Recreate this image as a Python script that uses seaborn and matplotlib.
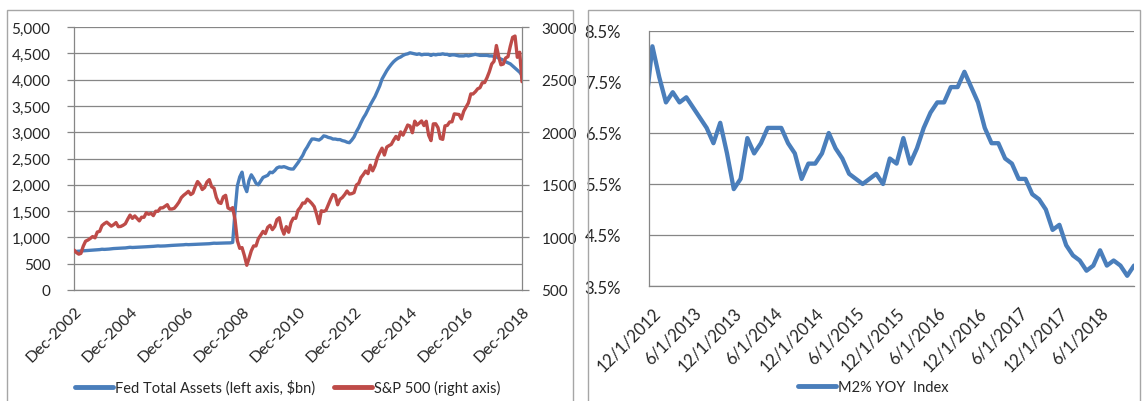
import numpy as np
import pandas as pd
import matplotlib
matplotlib.use("Agg")
import matplotlib.pyplot as plt
from matplotlib.patches import Rectangle
from matplotlib.lines import Line2D
import seaborn as sns

sns.set_style("white")
plt.rcParams["font.family"] = ["Lato", "DejaVu Sans"]

# ---------------- data ----------------
# Monthly, Dec 2002 .. Dec 2018
fed_assets = [
    730,
    735, 738, 742, 745, 748, 752, 755, 757, 760, 764, 768, 775,
    772, 775, 778, 783, 788, 790, 792, 795, 798, 800, 806, 812,
    808, 810, 812, 815, 818, 820, 822, 824, 826, 830, 834, 838,
    835, 836, 838, 842, 845, 848, 850, 852, 854, 856, 860, 865,
    862, 864, 866, 868, 870, 872, 874, 876, 878, 880, 885, 890,
    888, 890, 892, 893, 894, 895, 896, 905, 1500, 1980, 2150, 2240,
    1980, 1870, 2080, 2190, 2120, 2030, 2000, 2070, 2140, 2160, 2180, 2240,
    2230, 2270, 2320, 2340, 2335, 2345, 2330, 2310, 2300, 2300, 2360, 2420,
    2490, 2560, 2650, 2720, 2800, 2870, 2870, 2860, 2850, 2880, 2930, 2920,
    2900, 2890, 2870, 2870, 2860, 2860, 2840, 2830, 2810, 2800, 2850, 2910,
    3010, 3090, 3180, 3270, 3340, 3430, 3520, 3600, 3680, 3780, 3880, 4010,
    4090, 4170, 4230, 4290, 4340, 4380, 4410, 4430, 4460, 4480, 4490, 4510,
    4500, 4490, 4480, 4490, 4470, 4480, 4480, 4480, 4460, 4480, 4470, 4480,
    4480, 4490, 4480, 4480, 4460, 4470, 4470, 4460, 4450, 4450, 4450, 4460,
    4450, 4460, 4470, 4480, 4470, 4460, 4460, 4460, 4460, 4450, 4450, 4440,
    4430, 4410, 4390, 4370, 4340, 4320, 4300, 4260, 4220, 4180, 4140, 4080,
]
sp500 = [
    880,
    856, 841, 848, 917, 964, 975, 990, 1008, 996, 1051, 1058, 1112,
    1131, 1145, 1126, 1107, 1121, 1141, 1102, 1104, 1115, 1130, 1174, 1212,
    1181, 1204, 1181, 1157, 1192, 1191, 1234, 1220, 1229, 1207, 1249, 1248,
    1280, 1281, 1295, 1311, 1270, 1270, 1277, 1304, 1336, 1378, 1401, 1418,
    1438, 1407, 1421, 1482, 1531, 1503, 1455, 1474, 1527, 1549, 1481, 1468,
    1379, 1331, 1323, 1386, 1400, 1280, 1267, 1283, 1166, 969, 896, 903,
    826, 735, 798, 873, 919, 919, 987, 1021, 1057, 1036, 1096, 1115,
    1074, 1104, 1169, 1187, 1089, 1031, 1102, 1049, 1141, 1183, 1181, 1258,
    1286, 1327, 1326, 1364, 1345, 1321, 1292, 1219, 1131, 1253, 1247, 1258,
    1312, 1366, 1408, 1398, 1310, 1362, 1379, 1407, 1441, 1412, 1416, 1426,
    1498, 1515, 1569, 1598, 1631, 1606, 1686, 1633, 1682, 1757, 1806, 1848,
    1783, 1859, 1872, 1884, 1924, 1960, 1931, 2003, 1972, 2018, 2068, 2059,
    1995, 2105, 2068, 2086, 2107, 2063, 2104, 1972, 1920, 2079, 2080, 2044,
    1940, 1932, 2060, 2065, 2097, 2099, 2174, 2171, 2168, 2126, 2199, 2239,
    2279, 2364, 2363, 2384, 2412, 2423, 2470, 2472, 2519, 2575, 2648, 2674,
    2824, 2714, 2641, 2648, 2705, 2718, 2816, 2902, 2914, 2712, 2760, 2480,
]
left_dates = pd.date_range("2002-12-01", "2018-12-01", freq="MS")
left_ticks = pd.date_range("2002-12-01", "2018-12-01", freq="24MS")
left_tick_labels = [d.strftime("%b-%Y") for d in left_ticks]

# M2 YoY, monthly Nov 2012 .. Nov 2018
m2_months = pd.date_range("2012-11-01", "2018-11-01", freq="MS")
m2_yoy = [
    7.0,
    8.2, 7.6, 7.1, 7.3, 7.1, 7.2, 7.0, 6.8, 6.6, 6.3, 6.7, 6.1,
    5.4, 5.6, 6.4, 6.1, 6.3, 6.6, 6.6, 6.6, 6.3, 6.1, 5.6, 5.9,
    5.9, 6.1, 6.5, 6.2, 6.0, 5.7, 5.6, 5.5, 5.6, 5.7, 5.5, 6.0,
    5.9, 6.4, 5.9, 6.2, 6.6, 6.9, 7.1, 7.1, 7.4, 7.4, 7.7, 7.4,
    7.1, 6.6, 6.3, 6.3, 6.0, 5.9, 5.6, 5.6, 5.3, 5.2, 5.0, 4.6,
    4.7, 4.3, 4.1, 4.0, 3.8, 3.9, 4.2, 3.9, 4.0, 3.9, 3.7, 3.9,
]
left_ticks_y = [0, 500, 1000, 1500, 2000, 2500, 3000, 3500, 4000, 4500, 5000]
right_ticks_y = [500, 1000, 1500, 2000, 2500, 3000]
m2_ticks_y = [3.5, 4.5, 5.5, 6.5, 7.5, 8.5]

label_fed = "Fed Total Assets (left axis, $bn)"
label_sp = "S&P 500 (right axis)"
label_m2 = "M2% YOY  Index"

# ---------------- style ----------------
BLUE = "#4A7EBB"
RED = "#BE4B48"
GRID = "#868686"
AXC = "#868686"
W, H = 1146, 402
FS = 11

fig = plt.figure(figsize=(W / 100, H / 100), dpi=100)

# panel borders
for (x0, x1) in [(7, 573), (588, 1140)]:
    fig.patches.append(Rectangle((x0 / W, -0.05), (x1 - x0) / W, 1 - 11 / H + 0.05,
                                 transform=fig.transFigure, fill=False,
                                 edgecolor="#A6A6A6", lw=1.0))

# ---------- left chart ----------
ax1 = fig.add_axes([74 / W, 1 - 291 / H, 448 / W, 263 / H])
dfl = pd.DataFrame({"date": left_dates, "fed": fed_assets, "sp": sp500})
sns.lineplot(data=dfl, x="date", y="fed", ax=ax1, color=BLUE, lw=2.4)
ax1.set_xlim(left_dates[0], left_dates[-1])
ax1.set_ylim(0, 5000)
ax1.set_yticks(left_ticks_y)
ax1.set_yticklabels([f"{v:,}" for v in left_ticks_y], fontsize=FS)
ax1.set_xticks(left_ticks)
ax1.set_xticklabels(left_tick_labels, rotation=45, ha="right",
                    rotation_mode="anchor", fontsize=FS + 0.5)
ax1.grid(axis="y", color=GRID, lw=0.9)
ax1.set_axisbelow(True)
ax1.set_xlabel("")
ax1.set_ylabel("")
for s in ["left", "right", "bottom"]:
    ax1.spines[s].set_color(AXC)
    ax1.spines[s].set_linewidth(0.9)
ax1.spines["top"].set_visible(False)
ax1.tick_params(axis="y", length=5, color=AXC, width=0.9, pad=12)
ax1.tick_params(axis="x", length=5, color=AXC, width=0.9, pad=7, direction="inout")

ax2 = ax1.twinx()
sns.lineplot(data=dfl, x="date", y="sp", ax=ax2, color=RED, lw=2.4)
ax2.set_ylim(500, 3000)
ax2.set_yticks(right_ticks_y)
ax2.set_yticklabels([str(v) for v in right_ticks_y], fontsize=FS)
ax2.set_ylabel("")
for s in ["left", "right", "bottom", "top"]:
    ax2.spines[s].set_visible(False)
ax2.tick_params(axis="y", length=5, color=AXC, width=0.9, pad=9)
ax2.set_xlim(left_dates[0], left_dates[-1])

h1 = [Line2D([], [], color=BLUE, lw=3.5), Line2D([], [], color=RED, lw=3.5)]
fig.legend(h1, [label_fed, label_sp], loc="center",
           bbox_to_anchor=(288 / W, 1 - 388 / H), ncol=2, frameon=False,
           handlelength=2.6, handletextpad=0.15, columnspacing=1.3,
           fontsize=FS - 0.5)

# ---------- right chart ----------
ax3 = fig.add_axes([649 / W, 1 - 287 / H, 485 / W, 255 / H])
dfr = pd.DataFrame({"idx": np.arange(len(m2_yoy)), "m2": m2_yoy})
sns.lineplot(data=dfr, x="idx", y="m2", ax=ax3, color=BLUE, lw=3.1)
ax3.set_xlim(0.5, len(m2_yoy) - 1)
ax3.set_ylim(3.5, 8.5)
ax3.set_yticks(m2_ticks_y)
ax3.set_yticklabels([f"{v:.1f}%" for v in m2_ticks_y], fontsize=FS + 1)
tick_idx = [i for i, d in enumerate(m2_months) if d.month in (6, 12)]
ax3.set_xticks(tick_idx)
ax3.set_xticklabels([f"{m2_months[i].month}/1/{m2_months[i].year}" for i in tick_idx],
                    rotation=45, ha="right", rotation_mode="anchor", fontsize=FS + 1)
ax3.grid(axis="y", color=GRID, lw=0.9)
ax3.set_axisbelow(True)
ax3.set_xlabel("")
ax3.set_ylabel("")
ax3.spines["left"].set_color(AXC)
ax3.spines["left"].set_linewidth(0.9)
ax3.spines["bottom"].set_color(GRID)
ax3.spines["bottom"].set_linewidth(0.9)
ax3.spines["top"].set_visible(False)
ax3.spines["right"].set_visible(False)
ax3.tick_params(axis="y", length=0, pad=20)
ax3.tick_params(axis="x", length=0, pad=13)

h2 = [Line2D([], [], color=BLUE, lw=3.5)]
fig.legend(h2, [label_m2], loc="center", bbox_to_anchor=(873 / W, 1 - 388 / H),
           frameon=False, handlelength=2.6, handletextpad=0.15, fontsize=FS - 0.5)

fig.savefig("out.png", dpi=100)
